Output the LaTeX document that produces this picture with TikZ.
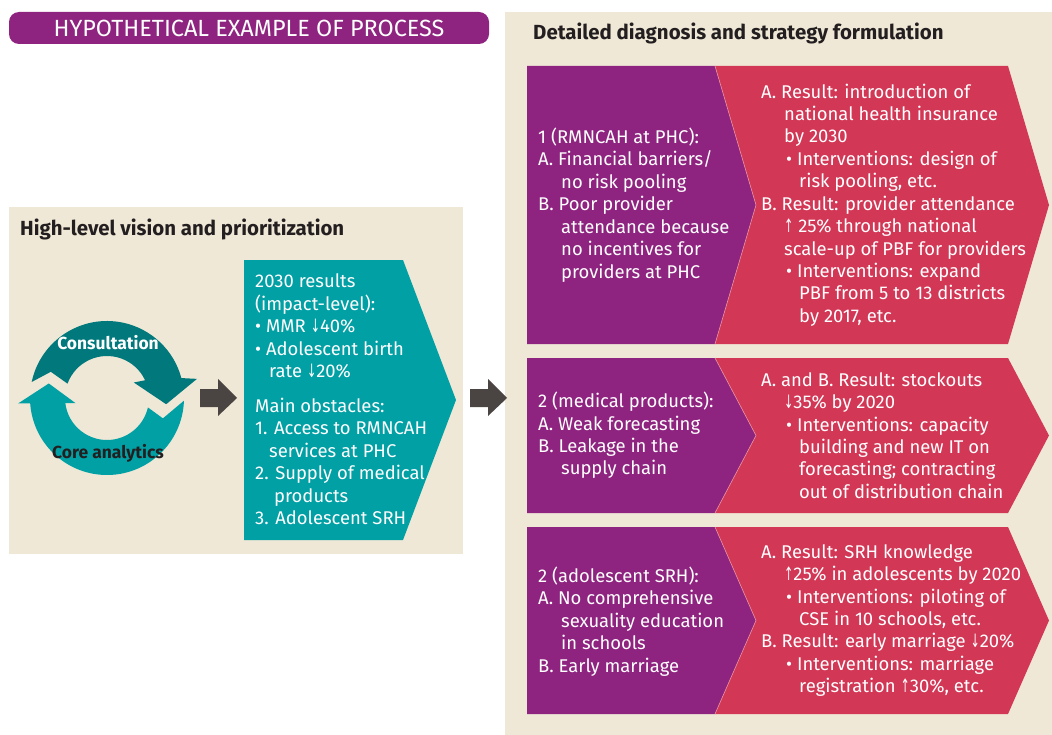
\documentclass[tikz,border=0pt]{standalone}
\usepackage{fontspec}
\setmainfont{Fira Sans}
\newfontfamily\symfont{DejaVu Sans}
\definecolor{beige}{HTML}{F0E8D6}
\definecolor{plum}{HTML}{8E2480}
\definecolor{rose}{HTML}{D23755}
\definecolor{lightteal}{HTML}{00A0A5}
\definecolor{darkteal}{HTML}{00787C}
\definecolor{ink}{HTML}{231F20}
\definecolor{arrowgray}{HTML}{4A4443}
\newcommand\up{\scalebox{0.6}[1]{\symfont ↑}}
\newcommand\dn{\scalebox{0.6}[1]{\symfont ↓}}
\newcommand\inA{\hspace*{23bp}}
\newcommand\inB{\hspace*{25bp}}
\newcommand\inC{\hspace*{38bp}}
\tikzset{
  body/.style={font=\fontsize{18.5}{22.5}\selectfont,text=white,align=left,anchor=west,inner sep=0pt},
  head/.style={font=\fontsize{20.5}{24}\selectfont\bfseries,text=ink,anchor=base west,inner sep=0pt},
  cycletext/.style={font=\fontsize{17.5}{20}\selectfont\bfseries,inner sep=0pt}
}
\begin{document}
\begin{tikzpicture}[x=1bp,y=-1bp]
  \useasboundingbox (0,0) rectangle (1052,735);
  \fill[beige] (9,207) rectangle (463,554);
  \fill[beige] (505,12) rectangle (1052,735);
  \fill[plum,rounded corners=10bp] (9,12) rectangle (489,44);
  \node[font=\fontsize{23.5}{26}\selectfont,text=white,inner sep=0pt] (title) at (249,28.5) {HYPOTHETICAL EXAMPLE OF PROCESS};
  \node[head] (vision) at (20,235) {High-level vision and prioritization};
  \node[head] (detail) at (533,40) {Detailed diagnosis and strategy formulation};
  \begin{scope}[shift={(107,398)},y=1bp]
    \fill[lightteal] (-2:77) arc[start angle=-2,end angle=-176,radius=77] -- (-176.5:89) -- (166:60)
      -- (-171:32) -- (-173:42) arc[start angle=-173,end angle=-13,radius=42] -- (-20:59.5) -- cycle;
    \fill[darkteal] (168:77) arc[start angle=168,end angle=15,radius=77] -- (12:92) -- (-6:59.5)
      -- (30:31) -- (25:42) arc[start angle=25,end angle=160,radius=42] -- (155:62) -- cycle;
  \end{scope}
  \node[cycletext,text=white] (consult) at (108,343) {Consultation};
  \node[cycletext,text=ink] (core) at (108,453) {Core analytics};
  \foreach \x in {200,470}
    \fill[arrowgray] (\x,389) -- (\x+18,389) -- (\x+18,379) -- (\x+37,398) -- (\x+18,416) -- (\x+18,407) -- (\x,407) -- cycle;
  \fill[lightteal] (244,260) -- (403,260) -- (456,400) -- (403,540) -- (244,540) -- cycle;
  \node[body] (results) at (255,326) {2030 results\\(impact-level):\\\textbullet\ MMR \dn40\%\\\textbullet\ Adolescent birth\\\hspace*{14bp}rate \dn20\%};
  \node[body] (obstacles) at (255,461.5) {Main obstacles:\\1. Access to RMNCAH\\\hspace*{14bp}services at PHC\\2. Supply of medical\\\hspace*{19bp}products\\3. Adolescent SRH};
  \foreach \t/\b in {66/344,358/513,527/714} {
    \fill[plum] (527,\t) -- (715,\t) -- (756,{(\t+\b)/2}) -- (715,\b) -- (527,\b) -- cycle;
    \fill[rose] (715,\t) -- (1008,\t) -- (1049,{(\t+\b)/2}) -- (1008,\b) -- (715,\b) -- (756,{(\t+\b)/2}) -- cycle;
    \draw[rose!55!white,line width=0.6bp] (715,\t) -- (756,{(\t+\b)/2}) -- (715,\b);
  }
  \node[body] (diag1) at (538,205) {1 (RMNCAH at PHC):\\A. Financial barriers/\\\inA no risk pooling\\B. Poor provider\\\inA attendance because\\\inA no incentives for\\\inA providers at PHC};
  \node[body] (res1) at (761,205) {A. Result: introduction of\\\inA national health insurance\\\inA by 2030\\\inB\textbullet\ Interventions: design of\\\inC risk pooling, etc.\\B. Result: provider attendance\\\inA\up\ 25\% through national\\\inA scale-up of PBF for providers\\\inB\textbullet\ Interventions: expand\\\inC PBF from 5 to 13 districts\\\inC by 2017, etc.};
  \node[body] (diag2) at (538,435.5) {2 (medical products):\\A. Weak forecasting\\B. Leakage in the\\\inA supply chain};
  \node[body] (res2) at (761,435.5) {A. and B. Result: stockouts\\\inA\dn35\% by 2020\\\inB\textbullet\ Interventions: capacity\\\inC building and new IT on\\\inC forecasting; contracting\\\inC out of distribution chain};
  \node[body] (diag3) at (538,621.5) {2 (adolescent SRH):\\A. No comprehensive\\\inA sexuality education\\\inA in schools\\B. Early marriage};
  \node[body] (res3) at (761,620.5) {A. Result: SRH knowledge\\\inA\up25\% in adolescents by 2020\\\inB\textbullet\ Interventions: piloting of\\\inC CSE in 10 schools, etc.\\B. Result: early marriage \dn20\%\\\inB\textbullet\ Interventions: marriage\\\inC registration \up30\%, etc.};
\end{tikzpicture}
\end{document}
